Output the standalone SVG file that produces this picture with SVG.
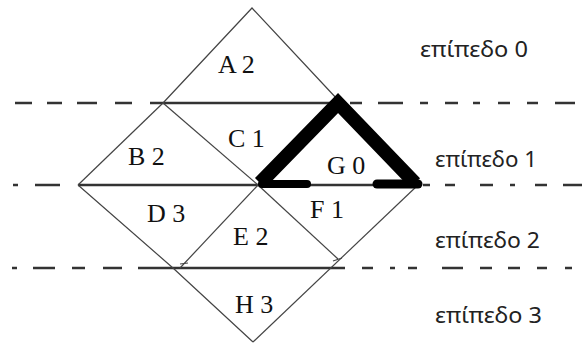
<svg xmlns="http://www.w3.org/2000/svg" width="584" height="343" viewBox="0 0 584 343">
<style>
.lvl{stroke:#333;stroke-width:2.4;fill:none}
.thin{stroke:#444;stroke-width:1.2;fill:none}
.lbl{font-family:"Liberation Serif",serif;font-size:26px;fill:#111}
.gr{font-family:"Noto Sans","DejaVu Sans",sans-serif;font-size:21px;fill:#222}
</style>
<rect width="584" height="343" fill="#fff"/>
<g id="levels">
<path class="lvl" d="M15 103H32M47 103H62M77 103H97M115 103H132M150 103H338M350 103H362M378 103H403M420 103H428M445 103H458M473 103H480M498 103H510M527 103H538M555 103H575"/>
<path class="lvl" d="M13 185H18M35 185H60M78 185H420M423 185H430M445 185H455M480 185H493M510 185H515M535 185H547M563 185H582"/>
<path class="lvl" d="M12 268H17M33 268H55M72 268H85M103 268H122M138 268H345M362 268H373M390 268H395M408 268H417M442 268H463M480 268H492M508 268H520M537 268H547M565 268H572"/>
</g>
<g id="connectors">
<polyline class="thin" points="163,103 252,8 338,100"/>
<line class="thin" x1="78" y1="185" x2="163" y2="103"/>
<line class="thin" x1="163" y1="103" x2="258" y2="185"/>
<polyline class="thin" points="78,185 173,268 253,342"/>
<line class="thin" x1="258" y1="185" x2="180" y2="268"/>
<line class="thin" x1="180" y1="264" x2="188" y2="263"/>
<line class="thin" x1="258" y1="185" x2="338" y2="259"/>
<line class="thin" x1="333" y1="261" x2="342" y2="258"/>
<line class="thin" x1="418" y1="185" x2="253" y2="342"/>
</g>
<g id="G">
<polyline points="260,183 338,103 415,183" fill="none" stroke="#000" stroke-width="14" stroke-linejoin="miter"/>
<line x1="262" y1="184" x2="307" y2="184" stroke="#000" stroke-width="8" stroke-linecap="round"/>
<line x1="377" y1="184" x2="418" y2="184" stroke="#000" stroke-width="9" stroke-linecap="round"/>
<text class="lbl" x="327" y="174">G 0</text>
</g>
<g id="A"><text class="lbl" x="218" y="73">A 2</text></g>
<g id="B"><text class="lbl" x="128" y="165">B 2</text></g>
<g id="C"><text class="lbl" x="228" y="147">C 1</text></g>
<g id="D"><text class="lbl" x="147" y="222">D 3</text></g>
<g id="E"><text class="lbl" x="233" y="245">E 2</text></g>
<g id="F"><text class="lbl" x="310" y="218">F 1</text></g>
<g id="H"><text class="lbl" x="235" y="313">H 3</text></g>
<g id="levels-text">
<text class="gr" x="420" y="57" textLength="108" lengthAdjust="spacingAndGlyphs">επίπεδο 0</text>
<text class="gr" x="435" y="167" textLength="102" lengthAdjust="spacingAndGlyphs">επίπεδο 1</text>
<text class="gr" x="435" y="248" textLength="105" lengthAdjust="spacingAndGlyphs">επίπεδο 2</text>
<text class="gr" x="435" y="323" textLength="107" lengthAdjust="spacingAndGlyphs">επίπεδο 3</text>
</g>
</svg>
